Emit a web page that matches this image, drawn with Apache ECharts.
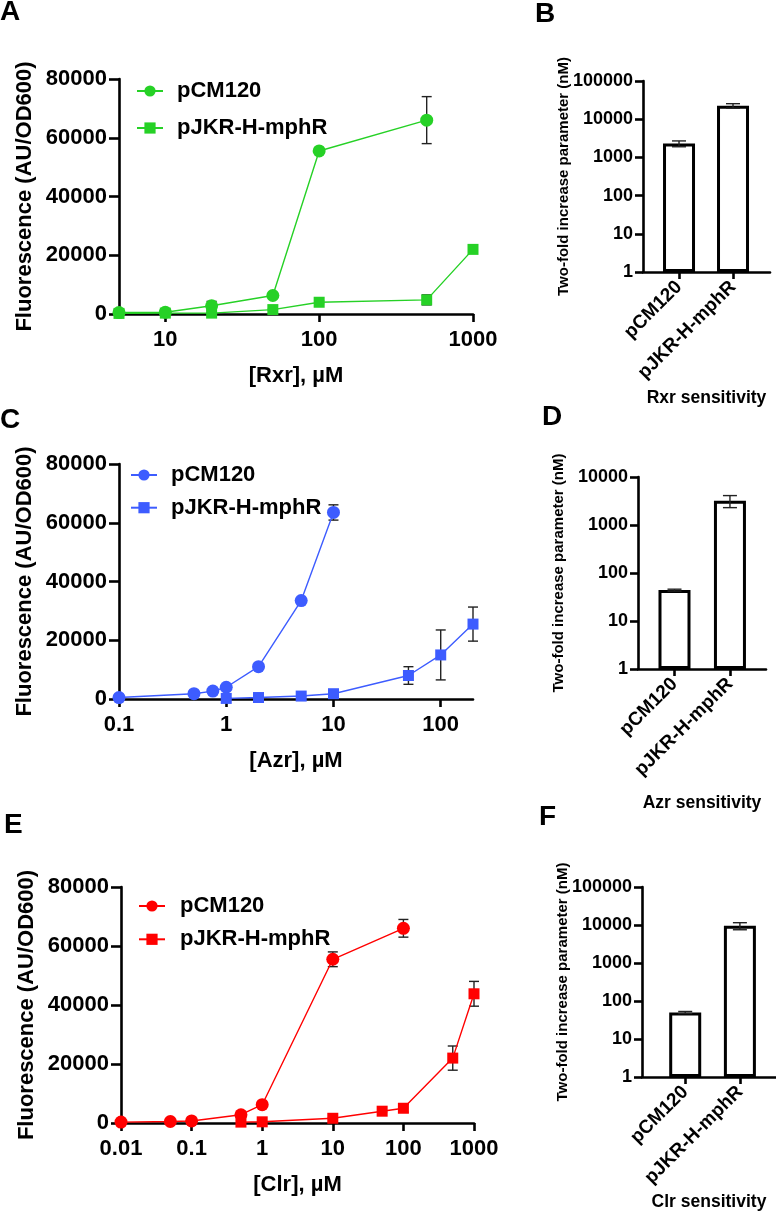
<!DOCTYPE html>
<html><head><meta charset="utf-8">
<script src="https://cdn.jsdelivr.net/npm/echarts@6/dist/echarts.min.js"></script>
<style>html,body{margin:0;padding:0;background:#fff}#c{width:776px;height:1219px}</style>
</head><body><div id="c"></div>
<script>
// ---------- DATA ----------
const seriesNames = ['pCM120', 'pJKR-H-mphR'];
const barCategories = ['pCM120', 'pJKR-H-mphR'];

// Panel A: Rxr
const rxrX_pCM = [5, 10, 20, 50, 100, 500];
const rxrY_pCM = [500, 600, 2800, 6300, 55500, 66000];
const rxrE_pCM = [200, 300, 1500, 500, 800, 8000];
const rxrX_pJKR = [5, 10, 20, 50, 100, 500, 1000];
const rxrY_pJKR = [200, 300, 300, 1500, 4000, 4800, 22000];
const rxrE_pJKR = [0, 100, 300, 300, 500, 1700, 800];
const rxrTicks = [10, 100, 1000];

// Panel C: Azr
const azrX_pCM = [0.1, 0.5, 0.75, 1, 2, 5, 10];
const azrY_pCM = [500, 1800, 2700, 4000, 11000, 33500, 63500];
const azrE_pCM = [100, 200, 200, 300, 500, 500, 2600];
const azrX_pJKR = [1, 2, 5, 10, 50, 100, 200];
const azrY_pJKR = [200, 500, 1000, 1800, 8000, 15000, 25500];
const azrE_pJKR = [50, 100, 200, 300, 3000, 8500, 5800];
const azrTicks = [0.1, 1, 10, 100];

// Panel E: Clr
const clrX_pCM = [0.01, 0.05, 0.1, 0.5, 1, 10, 100];
const clrY_pCM = [300, 500, 700, 2800, 6200, 55500, 66000];
const clrE_pCM = [50, 100, 100, 300, 300, 2500, 3000];
const clrX_pJKR = [0.5, 1, 10, 50, 100, 500, 1000];
const clrY_pJKR = [300, 400, 1600, 4000, 5000, 22000, 43800];
const clrE_pJKR = [500, 100, 200, 300, 1300, 4100, 4200];
const clrTicks = [0.01, 0.1, 1, 10, 100, 1000];

// Bar panels: two-fold increase parameter (nM)
const rxrBar = [2300, 22500];
const rxrBarErr = [400, 3000];
const azrBar = [44, 3200];
const azrBarErr = [2, 900];
const clrBar = [50, 9500];
const clrBarErr = [3, 2000];

const fluorTicks = [0, 20000, 40000, 60000, 80000];

// ---------- STYLE / HELPERS ----------
const FONT = '"Liberation Sans", Arial, Helvetica, sans-serif';
const GREEN = '#26d126', BLUE = '#3d5cff', RED = '#ff0000';
const zip = (a, b) => a.map((v, i) => [v, b[i]]);
const errData = (x, y, e) => x.map((v, i) => [v, y[i] - e[i], y[i] + e[i]]).filter((d, i) => e[i] > 0);
const fmtNum = v => String(parseFloat(Number(v).toPrecision(6)));

function errRender(capW, lw) {
  return function (params, api) {
    const x = api.value(0), lo = api.value(1), hi = api.value(2);
    const p1 = api.coord([x, lo]), p2 = api.coord([x, hi]);
    const st = { stroke: '#222', lineWidth: lw };
    return {
      type: 'group', children: [
        { type: 'line', shape: { x1: p1[0], y1: p1[1], x2: p2[0], y2: p2[1] }, style: st },
        { type: 'line', shape: { x1: p1[0] - capW / 2, y1: p1[1], x2: p1[0] + capW / 2, y2: p1[1] }, style: st },
        { type: 'line', shape: { x1: p2[0] - capW / 2, y1: p2[1], x2: p2[0] + capW / 2, y2: p2[1] }, style: st }
      ]
    };
  };
}

const axLine = { show: true, onZero: false, lineStyle: { color: '#000', width: 2.6 } };
const txt = (size) => ({ fontSize: size, fontWeight: 'bold', color: '#000', fontFamily: FONT });

const grids = [
  { left: 119, top: 79, width: 354, height: 235 },   // A
  { left: 119, top: 464, width: 354, height: 235 },  // C
  { left: 121, top: 887, width: 353, height: 236 },  // E
  { left: 643, top: 81, width: 127, height: 191 },   // B
  { left: 638, top: 477, width: 128, height: 192 },  // D
  { left: 642, top: 887, width: 134, height: 190 }   // F
];

function leftX(gi, min, max, ticks, title) {
  return {
    type: 'log', logBase: 10, gridIndex: gi, min: min, max: max,
    axisLine: axLine,
    axisTick: { show: true, length: 8, lineStyle: { color: '#000', width: 2.6 }, customValues: ticks },
    axisLabel: Object.assign(txt(22), { margin: 15, customValues: ticks, formatter: fmtNum }),
    splitLine: { show: false }, minorTick: { show: false },
    name: title, nameLocation: 'middle', nameGap: 51, nameMoveOverlap: false, nameTextStyle: txt(22)
  };
}
function leftY(gi) {
  return {
    type: 'value', gridIndex: gi, min: fluorTicks[0], max: fluorTicks[fluorTicks.length - 1], interval: fluorTicks[1] - fluorTicks[0],
    axisLine: axLine,
    axisTick: { show: true, length: 10, lineStyle: { color: '#000', width: 2.6 } },
    axisLabel: Object.assign(txt(22), { margin: 12, formatter: v => String(v) }),
    splitLine: { show: false },
    name: 'Fluorescence (AU/OD600)', nameLocation: 'middle', nameGap: 83, nameMoveOverlap: false, nameTextStyle: txt(22)
  };
}
function barX(gi, min, max, title, gap) {
  return {
    type: 'value', gridIndex: gi, min: min, max: max,
    axisLine: axLine,
    axisTick: { show: true, length: 7, lineStyle: { color: '#000', width: 2.6 }, customValues: [0, 1] },
    axisLabel: Object.assign(txt(19), { margin: 12, rotate: 45, customValues: [0, 1], formatter: v => barCategories[Math.round(v)] }),
    splitLine: { show: false },
    name: title, nameLocation: 'middle', nameGap: gap, nameMoveOverlap: false, nameTextStyle: txt(17.5)
  };
}
function barY(gi, max) {
  return {
    type: 'log', logBase: 10, gridIndex: gi, min: 1, max: max,
    axisLine: axLine,
    axisTick: { show: true, length: 8, lineStyle: { color: '#000', width: 2.6 } },
    axisLabel: Object.assign(txt(18), { margin: 10, formatter: v => String(Math.round(v)) }),
    splitLine: { show: false }, minorTick: { show: false },
    name: 'Two-fold increase parameter (nM)', nameLocation: 'middle', nameGap: 72, nameMoveOverlap: false, nameTextStyle: txt(15)
  };
}

function lineSeries(key, idx, ai, x, y, color) {
  return {
    type: 'line', name: key + '|' + seriesNames[idx], xAxisIndex: ai, yAxisIndex: ai,
    data: zip(x, y), symbol: idx === 0 ? 'circle' : 'rect', symbolSize: idx === 0 ? 13 : 11,
    showSymbol: true, lineStyle: { color: color, width: 1.4 }, itemStyle: { color: color },
    z: 3, emphasis: { disabled: true }
  };
}
function errSeries(ai, x, y, e, cap, z) {
  return {
    type: 'custom', xAxisIndex: ai, yAxisIndex: ai, data: errData(x, y, e),
    renderItem: errRender(cap, 1.4), z: z, silent: true,
    encode: { x: 0, y: [1, 2] }
  };
}
function barSeries(ai, vals) {
  return {
    type: 'bar', xAxisIndex: ai, yAxisIndex: ai, data: vals.map((v, i) => [i, v]),
    barWidth: 32, itemStyle: { color: '#fff', borderColor: '#000', borderWidth: 3 }, z: 2, silent: true
  };
}
function legend(key, left, top, gap, pad) {
  return {
    data: seriesNames.map(n => key + '|' + n), orient: 'vertical', left: left, top: top,
    itemGap: gap, itemWidth: 26, itemHeight: 14, padding: 0,
    formatter: n => n.split('|')[1],
    textStyle: Object.assign(txt(22), { padding: [0, 0, 0, pad] }),
    selectedMode: false
  };
}
const letter = (t, x, y) => ({ type: 'text', left: x, top: y, style: { text: t, font: 'bold 28px ' + FONT, fill: '#000' } });

const option = {
  animation: false,
  backgroundColor: '#fff',
  textStyle: { fontFamily: FONT },
  grid: grids,
  xAxis: [
    leftX(0, 5, 1000, rxrTicks, '[Rxr], µM'),
    leftX(1, 0.1, 200, azrTicks, '[Azr], µM'),
    leftX(2, 0.01, 1000, clrTicks, '[Clr], µM'),
    barX(3, -0.667, 1.685, 'Rxr sensitivity', 117),
    barX(4, -0.658, 1.65, 'Azr sensitivity', 125),
    barX(5, -0.79, 1.66, 'Clr sensitivity', 116)
  ],
  yAxis: [leftY(0), leftY(1), leftY(2), barY(3, 100000), barY(4, 10000), barY(5, 100000)],
  legend: [
    legend('A', 136, 80, 15, 9),
    legend('C', 130, 464, 10.7, 9),
    legend('E', 138, 895, 11.3, 10)
  ],
  graphic: [
    letter('A', 0, -2), letter('B', 535, 0), letter('C', 0, 406),
    letter('D', 542, 403), letter('E', 4, 811), letter('F', 539, 803)
  ],
  series: [
    errSeries(0, rxrX_pCM, rxrY_pCM, rxrE_pCM, 10, 2),
    errSeries(0, rxrX_pJKR, rxrY_pJKR, rxrE_pJKR, 10, 2),
    lineSeries('A', 0, 0, rxrX_pCM, rxrY_pCM, GREEN),
    lineSeries('A', 1, 0, rxrX_pJKR, rxrY_pJKR, GREEN),

    errSeries(1, azrX_pCM, azrY_pCM, azrE_pCM, 10, 2),
    errSeries(1, azrX_pJKR, azrY_pJKR, azrE_pJKR, 10, 2),
    lineSeries('C', 0, 1, azrX_pCM, azrY_pCM, BLUE),
    lineSeries('C', 1, 1, azrX_pJKR, azrY_pJKR, BLUE),

    errSeries(2, clrX_pCM, clrY_pCM, clrE_pCM, 10, 2),
    errSeries(2, clrX_pJKR, clrY_pJKR, clrE_pJKR, 10, 2),
    lineSeries('E', 0, 2, clrX_pCM, clrY_pCM, RED),
    lineSeries('E', 1, 2, clrX_pJKR, clrY_pJKR, RED),

    barSeries(3, rxrBar), errSeries(3, [0, 1], rxrBar, rxrBarErr, 14, 4),
    barSeries(4, azrBar), errSeries(4, [0, 1], azrBar, azrBarErr, 14, 4),
    barSeries(5, clrBar), errSeries(5, [0, 1], clrBar, clrBarErr, 14, 4)
  ]
};
const chart = echarts.init(document.getElementById('c'), null, { renderer: 'canvas' });
chart.setOption(option);
</script>
</body></html>
